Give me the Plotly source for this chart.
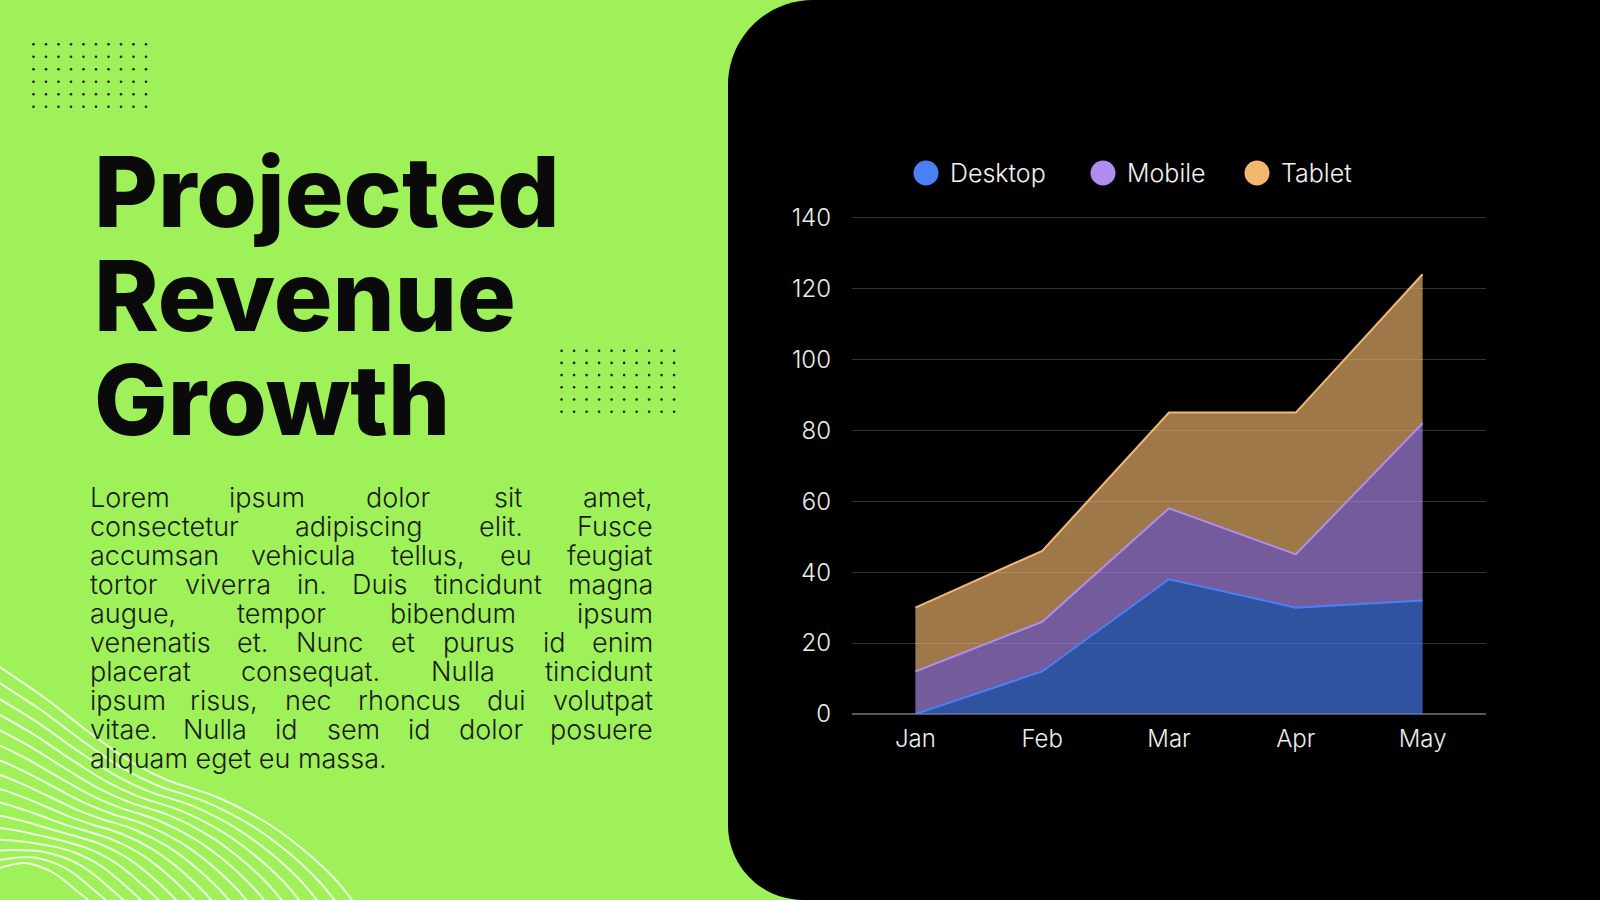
import plotly.graph_objects as go
import numpy as np

# chart data
months = ["Jan", "Feb", "Mar", "Apr", "May"]
desktop = [0, 12, 38, 30, 32]
mobile = [12, 14, 20, 15, 50]
tablet = [18, 20, 27, 40, 42]
series_names = ["Desktop", "Mobile", "Tablet"]
series_colors = ["#4A80F5", "#B08CF0", "#F2B870"]
y_ticks = [0, 20, 40, 60, 80, 100, 120, 140]

# page text
title_lines = ["Projected", "Revenue", "Growth"]
body_lines = [
    "Lorem ipsum dolor sit amet,",
    "consectetur adipiscing elit. Fusce",
    "accumsan vehicula tellus, eu feugiat",
    "tortor viverra in. Duis tincidunt magna",
    "augue, tempor bibendum ipsum",
    "venenatis et. Nunc et purus id enim",
    "placerat consequat. Nulla tincidunt",
    "ipsum risus, nec rhoncus dui volutpat",
    "vitae. Nulla id sem id dolor posuere",
    "aliquam eget eu massa.",
]

W, H = 1600, 900
GREEN = "#9EF159"


def px(x):
    return x / W


def py(y):
    return 1 - y / H


def rgba(hex_col, a):
    h = hex_col.lstrip("#")
    r, g, b = int(h[0:2], 16), int(h[2:4], 16), int(h[4:6], 16)
    return f"rgba({r},{g},{b},{a})"


# rough glyph widths (em) used to spread words for the justified paragraph
CHAR_W = {
    "a": .55, "b": .60, "c": .54, "d": .60, "e": .57, "f": .35, "g": .60, "h": .58,
    "i": .23, "j": .23, "k": .52, "l": .23, "m": .88, "n": .58, "o": .59, "p": .60,
    "q": .60, "r": .37, "s": .51, "t": .35, "u": .58, "v": .53, "w": .80, "x": .52,
    "y": .53, "z": .52, ".": .26, ",": .26, "L": .50, "D": .70, "N": .72, "F": .56,
}


def text_w(s, size):
    return sum(CHAR_W.get(c, .55) for c in s) * size


fig = go.Figure()

# stacked areas
for name, vals, col in zip(series_names, [desktop, mobile, tablet], series_colors):
    fig.add_trace(go.Scatter(
        x=months, y=vals, name=name, stackgroup="one", mode="lines",
        line=dict(color=col, width=2), fillcolor=rgba(col, 0.65),
        showlegend=False, xaxis="x", yaxis="y",
    ))

# decorations on a full-page pixel axis
dot_grids = [(33.5, 44.3, 12.5, 12.5), (561.6, 350.7, 12.5, 12.2)]
for x0, y0, dx, dy in dot_grids:
    gx, gy = np.meshgrid(x0 + dx * np.arange(10), y0 + dy * np.arange(6))
    fig.add_trace(go.Scatter(
        x=gx.ravel(), y=gy.ravel(), mode="markers", xaxis="x2", yaxis="y2",
        marker=dict(size=2.6, color="#1d1d1d"), showlegend=False, hoverinfo="skip",
    ))

# contour-like waves: blend from the outer curve to the inner hump
outer = np.array([(-30, 645), (0, 667), (45, 698), (90, 733), (133, 763), (167, 780),
                  (217, 797), (267, 823), (300, 847), (333, 877), (352, 900), (365, 920)])
inner = np.array([(-60, 900), (-40, 885), (-20, 875), (0, 868), (15, 864), (25, 863),
                  (38, 866), (52, 872), (65, 881), (78, 892), (88, 900), (96, 910)])
n_waves = 16
for i in range(n_waves):
    t = i / (n_waves - 1)
    pts = outer + (inner - outer) * t
    fig.add_trace(go.Scatter(
        x=pts[:, 0], y=pts[:, 1], mode="lines", xaxis="x2", yaxis="y2",
        line=dict(color="rgba(255,255,255,0.82)", width=2, shape="spline"),
        showlegend=False, hoverinfo="skip",
    ))

# legend markers
legend_x = [926, 1103, 1257]
legend_y = 173
fig.add_trace(go.Scatter(
    x=legend_x, y=[legend_y] * 3, mode="markers", xaxis="x2", yaxis="y2",
    marker=dict(size=25, color=series_colors), showlegend=False, hoverinfo="skip",
))

annotations = []
for name, lx in zip(series_names, legend_x):
    annotations.append(dict(
        text=name, x=px(lx + 22), y=py(legend_y), xref="paper", yref="paper",
        xanchor="left", yanchor="middle", showarrow=False,
        font=dict(family="Inter", size=25, color="#F2F2F2", weight=300),
    ))

# title
title_size = 98
for i, line in enumerate(title_lines):
    base = 231 + 104 * i
    annotations.append(dict(
        text=line, x=px(92), y=py(base - 0.36 * title_size - 4), xref="paper", yref="paper",
        xanchor="left", yanchor="middle", showarrow=False,
        font=dict(family="Inter", size=title_size, color="#0A0A0A", weight=800),
    ))

# justified paragraph
body_size = 27
bx0, bx1 = 88, 655
for i, line in enumerate(body_lines):
    yc = py(507 + 29 * i - 0.36 * body_size)
    words = line.split()
    fnt = dict(family="Inter", size=body_size, color="#1A1A1A", weight=300)
    if i == len(body_lines) - 1:
        annotations.append(dict(text=line, x=px(bx0), y=yc, xref="paper", yref="paper",
                                xanchor="left", yanchor="middle", showarrow=False, font=fnt))
        continue
    widths = [text_w(w, body_size) for w in words]
    gap = (bx1 - bx0 - sum(widths)) / (len(words) - 1)
    pos = bx0
    for j, (w, ww) in enumerate(zip(words, widths)):
        if j == 0:
            xa, xx = "left", bx0
        elif j == len(words) - 1:
            xa, xx = "right", bx1
        else:
            xa, xx = "center", pos + ww / 2
        annotations.append(dict(text=w, x=px(xx), y=yc, xref="paper", yref="paper",
                                xanchor=xa, yanchor="middle", showarrow=False, font=fnt))
        pos += ww + gap

# black rounded panel
pl, rt, rb = 728, 85, 75
k = 0.5523
panel_path = (
    f"M {px(W)},{py(0)} L {px(pl + rt)},{py(0)} "
    f"C {px(pl + rt - k * rt)},{py(0)} {px(pl)},{py(rt - k * rt)} {px(pl)},{py(rt)} "
    f"L {px(pl)},{py(H - rb)} "
    f"C {px(pl)},{py(H - rb + k * rb)} {px(pl + rb - k * rb)},{py(H)} {px(pl + rb)},{py(H)} "
    f"L {px(W)},{py(H)} Z"
)

tick_font = dict(family="Inter", size=24, color="#EDEDED", weight=300)

fig.update_layout(
    width=W, height=H, autosize=False,
    margin=dict(l=0, r=0, t=0, b=0, pad=0, autoexpand=False),
    paper_bgcolor=GREEN,
    plot_bgcolor="rgba(0,0,0,0)",
    showlegend=False,
    shapes=[dict(type="path", path=panel_path, xref="paper", yref="paper",
                 fillcolor="#000000", line=dict(width=0), layer="below")],
    annotations=annotations,
    xaxis=dict(
        domain=[px(852), px(1486)], anchor="y", type="category", range=[-0.5, 4.5],
        showgrid=False, zeroline=False, showline=False, ticks="", automargin=False,
        tickfont=tick_font, ticklabelstandoff=8,
    ),
    yaxis=dict(
        domain=[py(714), py(214)], anchor="x", range=[0, 141], tickvals=y_ticks,
        showgrid=True, gridcolor="#333333", gridwidth=1, automargin=False,
        zeroline=True, zerolinecolor="#5A5A5A", zerolinewidth=1.5,
        showline=False, ticks="", tickfont=tick_font, ticklabelstandoff=20,
    ),
    xaxis2=dict(domain=[0, 1], range=[0, W], anchor="y2", visible=False,
                fixedrange=True, automargin=False),
    yaxis2=dict(domain=[0, 1], range=[H, 0], anchor="x2", visible=False,
                fixedrange=True, automargin=False),
)

fig.write_html(
    "out.html",
    config={"displayModeBar": False},
    post_script="document.body.style.margin='0';document.body.style.overflow='hidden';",
)
